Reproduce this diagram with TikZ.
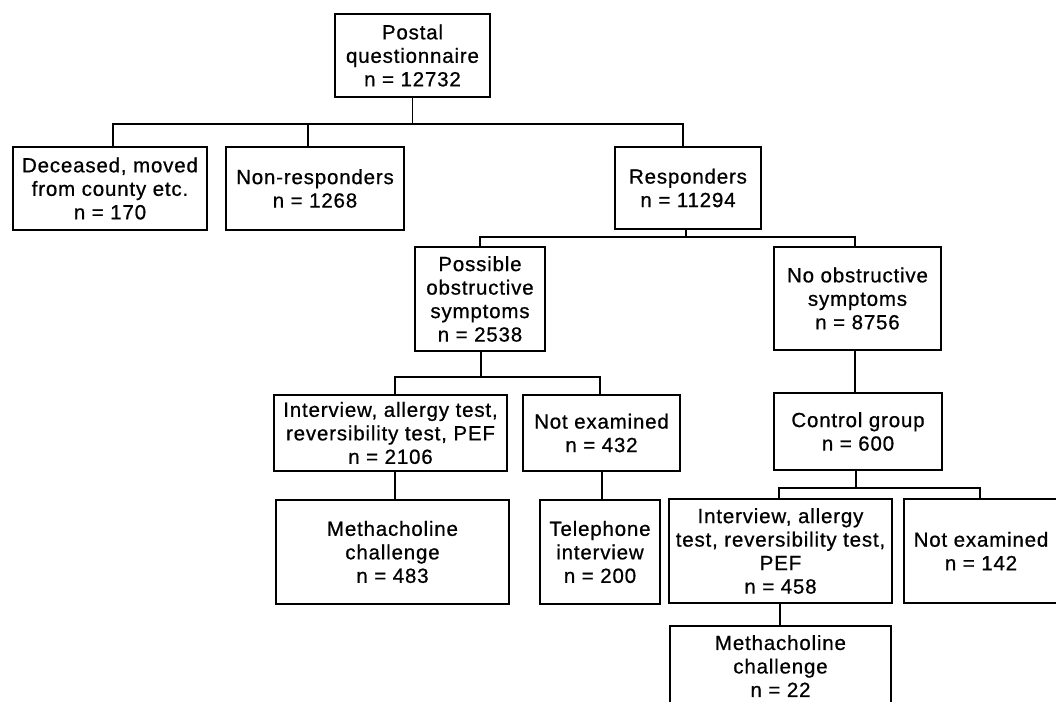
\documentclass[tikz,border=0pt]{standalone}
\usepackage{fontspec}
\newfontfamily\boxfont{Liberation Sans}[LetterSpace=4.0,FakeBold=0.7]
\begin{document}
\begin{tikzpicture}[x=1pt,y=-1pt,
  box/.style={draw,line width=1.7pt,align=center,inner sep=0pt,
    font=\boxfont\fontsize{20.5}{23.5}\selectfont},
  conn/.style={line width=1.4pt}]
\useasboundingbox[fill=white] (0,0) rectangle (1056,701);
\clip (0,0) rectangle (1056,701);
% level 0
\node[box,minimum width=155pt,minimum height=83pt] (post) at (412.5,55.5) {Postal\\questionnaire\\n = 12732};
% level 1
\node[box,minimum width=194pt,minimum height=83pt] (dec) at (110,188.5) {Deceased, moved\\from county etc.\\n = 170};
\node[box,minimum width=178pt,minimum height=83pt] (nonr) at (315,188.5) {Non-responders\\n = 1268};
\node[box,minimum width=146pt,minimum height=82pt] (resp) at (688,188) {Responders\\n = 11294};
% level 2
\node[box,minimum width=130pt,minimum height=104pt] (poss) at (480,299) {Possible\\obstructive\\symptoms\\n = 2538};
\node[box,minimum width=167pt,minimum height=103pt] (noobs) at (857.5,298.5) {No obstructive\\symptoms\\n = 8756};
% level 3
\node[box,minimum width=233pt,minimum height=76pt] (int1) at (390.5,433) {Interview, allergy test,\\reversibility test, PEF\\n = 2106};
\node[box,minimum width=157pt,minimum height=76pt] (ne1) at (601.5,433) {Not examined\\n = 432};
\node[box,minimum width=168pt,minimum height=77pt] (ctrl) at (858,431.5) {Control group\\n = 600};
% level 4
\node[box,minimum width=233pt,minimum height=104pt] (meth1) at (392.5,552) {Methacholine\\challenge\\n = 483};
\node[box,minimum width=120pt,minimum height=104pt] (tel) at (600,552) {Telephone\\interview\\n = 200};
\node[box,minimum width=223pt,minimum height=104pt] (int2) at (780.5,551) {Interview, allergy\\test, reversibility test,\\PEF\\n = 458};
\node[box,minimum width=154pt,minimum height=104pt] (ne2) at (981,551) {Not examined\\n = 142};
% level 5
\node[box,minimum width=221pt,minimum height=80pt] (meth2) at (780.5,666) {Methacholine\\challenge\\n = 22};
% connectors
\draw[conn] (post.south) -- ++(0,26) coordinate (j1);
\draw[conn] ([xshift=3pt]dec.north) |- (j1) -| ([xshift=-5pt]resp.north);
\draw[conn] ([xshift=-7pt]nonr.north) -- ([xshift=-7pt]nonr.north |- j1);
\draw[conn] ([xshift=-2pt]resp.south) -- ++(0,7) coordinate (j2);
\draw[conn] (poss.north) |- (j2) -| ([xshift=-2.5pt]noobs.north);
\draw[conn] ([xshift=1pt]poss.south) -- ++(0,25) coordinate (j3);
\draw[conn] ([xshift=4.5pt]int1.north) |- (j3) -| ([xshift=-1.5pt]ne1.north);
\draw[conn] ([xshift=-2.5pt]noobs.south) -- ([xshift=-3pt]ctrl.north);
\draw[conn] ([xshift=4.5pt]int1.south) -- ([xshift=2.5pt]meth1.north);
\draw[conn] ([xshift=0.5pt]ne1.south) -- ([xshift=2pt]tel.north);
\draw[conn] ([xshift=-2pt]ctrl.south) -- ++(0,17) coordinate (j4);
\draw[conn] ([xshift=-1.5pt]int2.north) |- (j4) -| ([xshift=-1pt]ne2.north);
\draw[conn] ([xshift=-0.5pt]int2.south) -- ([xshift=-0.5pt]meth2.north);
\end{tikzpicture}
\end{document}
